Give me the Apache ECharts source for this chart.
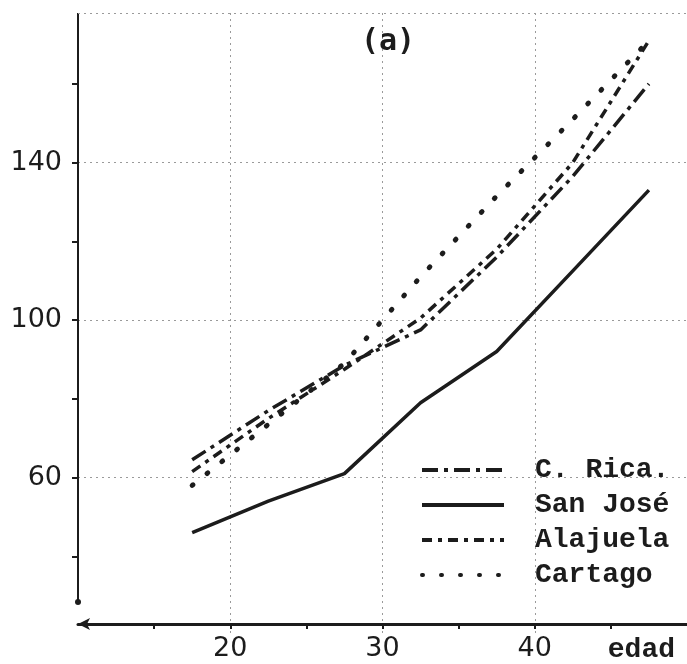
<!DOCTYPE html>
<html>
<head>
<meta charset="utf-8">
<script src="https://cdn.jsdelivr.net/npm/echarts@6/dist/echarts.min.js"></script>
<style>
  html, body { margin: 0; padding: 0; background: #fff; }
  #lineChart { width: 687px; height: 664px; }
</style>
</head>
<body>
<div id="lineChart"></div>
<script>
// edades (punto medio de cada grupo quinquenal)
const ages = [17.5, 22.5, 27.5, 32.5, 37.5, 42.5, 47.5];

const cRica = [64.5, 77, 88.5, 97.5, 116, 136.5, 160];
const sanJose = [46, 54, 61, 79, 92, 112.5, 133];
const alajuela = [61.5, 75, 87.5, 100.5, 118, 140, 171];
const cartago = [58, 73.5, 89, 111, 131.5, 151, 171];

const yLabels = [60, 100, 140];
const yTicks = [40, 60, 80, 100, 120, 140, 160];
const xLabels = [20, 30, 40];
const xTicks = [15, 20, 25, 30, 35, 40, 45];

// the drawn vertical axis stops a little above the horizontal one
const yAxisFrom = 28.4;
const yAxisTo = 178;

const ink = '#1c1c1c';
const gridColor = '#9a9a9a';

function pairs (vals) {
  return ages.map((a, i) => [a, vals[i]]);
}

let charts = echarts.init(document.getElementById('lineChart'));
let options = {
  animation: false,
  backgroundColor: '#fff',
  title: {
    text: '(a)',
    left: 383,
    top: 22,
    textAlign: 'center',
    textStyle: {
      fontFamily: 'DejaVu Sans Mono',
      fontSize: 30,
      fontWeight: 'bold',
      color: ink
    }
  },
  legend: {
    orient: 'vertical',
    left: 420,
    top: 455,
    padding: 0,
    itemWidth: 82,
    itemHeight: 14,
    itemGap: 5,
    selectedMode: false,
    itemStyle: { opacity: 0 },
    lineStyle: { width: 4 },
    data: ['C. Rica.', 'San José', 'Alajuela', 'Cartago'],
    textStyle: {
      fontFamily: 'Liberation Mono',
      fontSize: 28,
      fontWeight: 'bold',
      lineHeight: 30,
      color: ink,
      padding: [0, 0, 0, 26]
    }
  },
  grid: {
    left: 78,
    right: -3,
    top: 13,
    bottom: 28
  },
  xAxis: {
    type: 'value',
    min: 10,
    max: 50,
    interval: 10,
    offset: -11,
    name: 'edad',
    nameLocation: 'end',
    nameGap: -12,
    nameTextStyle: {
      fontFamily: 'Liberation Mono',
      fontSize: 28,
      fontWeight: 'bold',
      color: ink,
      align: 'right',
      verticalAlign: 'top',
      padding: [12, 0, 0, 0]
    },
    axisLine: {
      lineStyle: { color: ink, width: 3 },
      symbol: ['arrow', 'none'],
      symbolSize: [9, 12]
    },
    axisTick: { customValues: xTicks, length: 5, lineStyle: { color: ink, width: 2 } },
    axisLabel: {
      customValues: xLabels,
      margin: 11,
      fontFamily: 'DejaVu Sans',
      fontSize: 27,
      color: ink
    },
    splitLine: {
      show: true,
      lineStyle: { color: ['transparent', gridColor], type: [2, 4], width: 1 }
    }
  },
  yAxis: {
    type: 'value',
    min: 20,
    max: 178,
    interval: 40,
    axisLine: { show: false },
    axisTick: { show: true, customValues: yTicks, length: 6, lineStyle: { color: ink, width: 2 } },
    axisLabel: {
      customValues: yLabels,
      margin: 16,
      fontFamily: 'DejaVu Sans',
      fontSize: 27,
      color: ink
    },
    splitLine: {
      show: true,
      lineStyle: { color: ['transparent', gridColor], type: [2, 4], width: 1 }
    }
  },
  series: [
    {
      name: 'C. Rica.',
      type: 'line',
      symbol: 'none',
      data: pairs(cRica),
      lineStyle: { color: ink, width: 3.5, type: [16, 6, 4, 6] },
      itemStyle: { color: ink }
    },
    {
      name: 'San José',
      type: 'line',
      symbol: 'none',
      data: pairs(sanJose),
      lineStyle: { color: ink, width: 3.5 },
      itemStyle: { color: ink },
      markLine: {
        silent: true,
        animation: false,
        symbol: ['circle', 'none'],
        symbolSize: 6,
        label: { show: false },
        lineStyle: { color: ink, width: 2, type: 'solid' },
        data: [
          [{ coord: [10, yAxisFrom] }, { coord: [10, yAxisTo] }],
          [
            { coord: [10, yAxisTo], symbol: 'none', lineStyle: { color: gridColor, width: 1, type: [2, 4] } },
            { coord: [50, yAxisTo], symbol: 'none' }
          ]
        ]
      }
    },
    {
      name: 'Alajuela',
      type: 'line',
      symbol: 'none',
      data: pairs(alajuela),
      lineStyle: { color: ink, width: 3.5, type: [10, 6, 4, 6] },
      itemStyle: { color: ink }
    },
    {
      name: 'Cartago',
      type: 'line',
      symbol: 'none',
      data: pairs(cartago),
      lineStyle: { color: ink, width: 5, type: [1, 18], cap: 'round' },
      itemStyle: { color: ink }
    }
  ]
};
charts.setOption(options);
</script>
</body>
</html>
